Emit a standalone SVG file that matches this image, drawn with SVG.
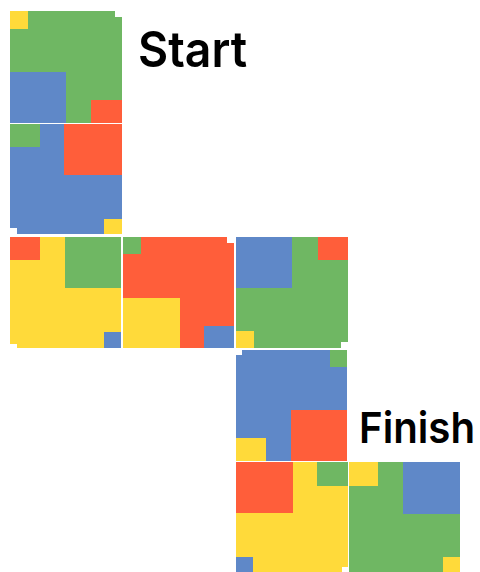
<svg xmlns="http://www.w3.org/2000/svg" width="480" height="572" viewBox="0 0 480 572">
<style>
.g{fill:#6FB763}.b{fill:#5F88C8}.r{fill:#FF5E3A}.y{fill:#FFDA3A}
.lbl{font-family:Inter,"Liberation Sans",sans-serif;font-weight:600;fill:#000}
</style>
<rect width="480" height="572" fill="#fff"/>
<g id="tile1">
<polygon class="g" points="10,11 115,11 115,17 122,17 122,123 10,123"/>
<rect class="y" x="10" y="11" width="18" height="18"/>
<rect class="b" x="10" y="72" width="56" height="51"/>
<rect class="r" x="91" y="100" width="31" height="23"/>
</g>
<g id="tile2">
<polygon class="b" points="10,124 122,124 122,234 17,234 17,228 10,228"/>
<rect class="g" x="10" y="124" width="30" height="23"/>
<rect class="r" x="64" y="124" width="58" height="51"/>
<rect class="y" x="104" y="219" width="18" height="15"/>
</g>
<g id="tile3">
<polygon class="y" points="10,237 121,237 121,348 17,348 17,344 10,344"/>
<rect class="r" x="10" y="237" width="30" height="23"/>
<rect class="g" x="65" y="237" width="56" height="51"/>
<rect class="b" x="104" y="332" width="17" height="16"/>
</g>
<g id="tile4">
<polygon class="r" points="123,237 227,237 227,243 234,243 234,348 123,348"/>
<rect class="g" x="123" y="237" width="18" height="17"/>
<rect class="y" x="123" y="298" width="57" height="50"/>
<rect class="b" x="204" y="326" width="30" height="22"/>
</g>
<g id="tile5">
<polygon class="g" points="236,237 348,237 348,342 341,342 341,348 236,348"/>
<rect class="b" x="236" y="237" width="56" height="51"/>
<rect class="r" x="318" y="237" width="30" height="23"/>
<rect class="y" x="236" y="331" width="18" height="17"/>
</g>
<g id="tile6">
<polygon class="b" points="242,350 347,350 347,461 236,461 236,355 242,355"/>
<rect class="g" x="330" y="350" width="17" height="17"/>
<rect class="r" x="291" y="410" width="56" height="51"/>
<rect class="y" x="236" y="438" width="30" height="23"/>
</g>
<g id="tile7">
<polygon class="y" points="236,462 348,462 348,567 342,567 342,572 236,572"/>
<rect class="r" x="236" y="462" width="57" height="51"/>
<rect class="g" x="317" y="462" width="31" height="24"/>
<rect class="b" x="236" y="557" width="17" height="15"/>
</g>
<g id="tile8">
<rect class="g" x="349" y="462" width="111" height="110"/>
<rect class="y" x="349" y="462" width="29" height="24"/>
<rect class="b" x="403" y="462" width="57" height="52"/>
<rect class="y" x="443" y="557" width="17" height="15"/>
</g>
<g id="labels">
<text class="lbl" x="138" y="67" font-size="50" textLength="109" lengthAdjust="spacingAndGlyphs">Start</text>
<text class="lbl" x="359" y="443" font-size="43" textLength="116" lengthAdjust="spacingAndGlyphs">Finish</text>
</g>
<g id="connectors"/>
</svg>
